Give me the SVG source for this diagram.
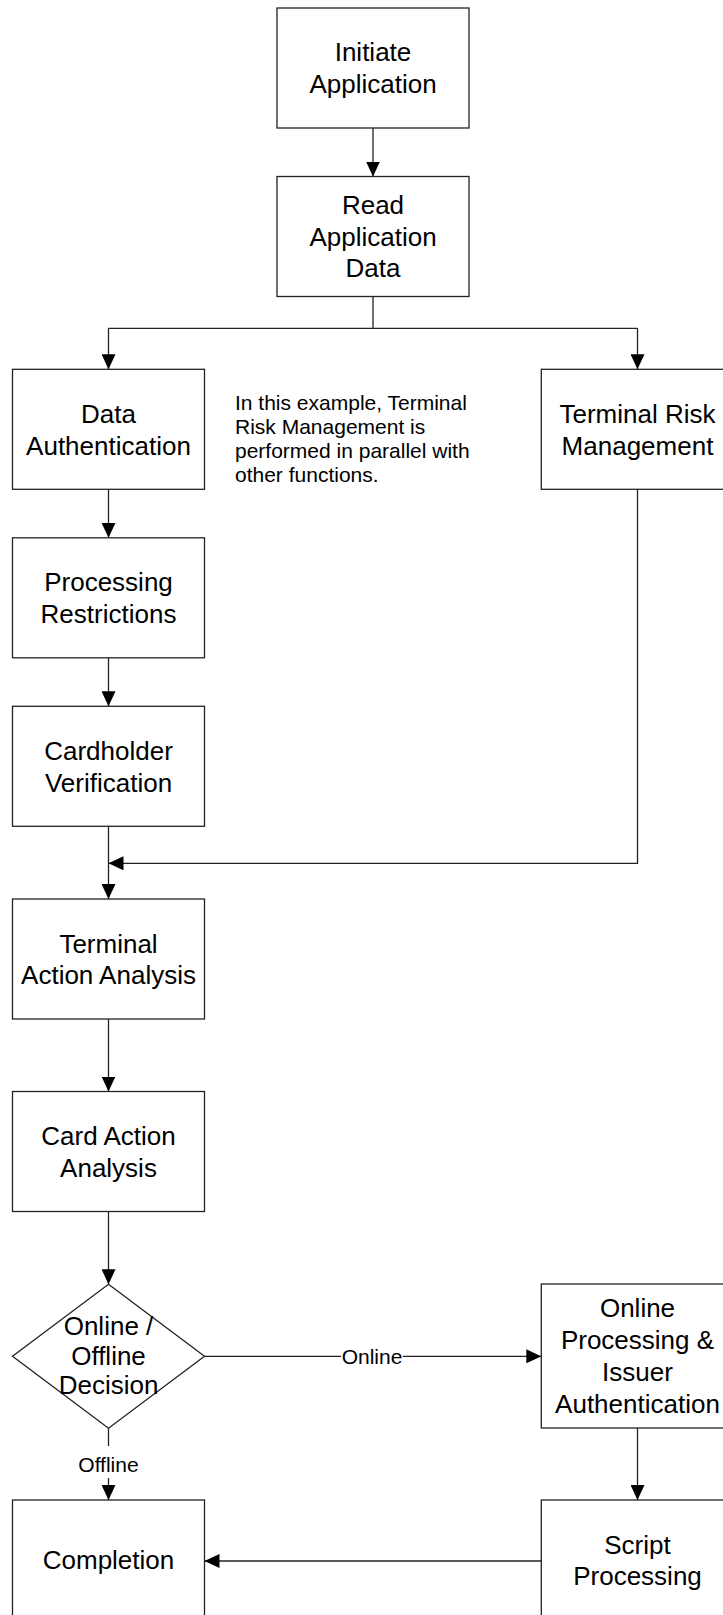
<svg xmlns="http://www.w3.org/2000/svg" width="723" height="1615" viewBox="0 0 723 1615">
<style>
.box{fill:#fff;stroke:#222;stroke-width:1.3}
.t{font-family:"Liberation Sans",Arial,sans-serif;font-size:26px;fill:#000;text-anchor:middle}
.note{font-family:"Liberation Sans",Arial,sans-serif;font-size:21px;fill:#000}
.lbl{font-family:"Liberation Sans",Arial,sans-serif;font-size:21px;fill:#000;text-anchor:middle}
.c{fill:none;stroke:#222;stroke-width:1.3}
</style>
<defs>
<marker id="ah" viewBox="0 0 15 14" refX="15" refY="7" markerWidth="15" markerHeight="14" markerUnits="userSpaceOnUse" orient="auto">
<path d="M0,0 L15,7 L0,14 Z" fill="#000"/>
</marker>
</defs>
<rect width="723" height="1615" fill="#fff"/>
<g id="connectors">
<path class="c" d="M373,128 V176.5" marker-end="url(#ah)"/>
<path class="c" d="M373,296.5 V328.3"/>
<path class="c" d="M108.5,328.3 H637.5"/>
<path class="c" d="M108.5,328.3 V369.3" marker-end="url(#ah)"/>
<path class="c" d="M637.5,328.3 V369.3" marker-end="url(#ah)"/>
<path class="c" d="M108.5,489.3 V537.8" marker-end="url(#ah)"/>
<path class="c" d="M108.5,657.8 V706.3" marker-end="url(#ah)"/>
<path class="c" d="M108.5,826.3 V899" marker-end="url(#ah)"/>
<path class="c" d="M637.5,489.3 V863.3 H108.5" marker-end="url(#ah)"/>
<path class="c" d="M108.5,1019 V1091.5" marker-end="url(#ah)"/>
<path class="c" d="M108.5,1211.5 V1284.3" marker-end="url(#ah)"/>
<path class="c" d="M204.5,1356.3 H541.3" marker-end="url(#ah)"/>
<rect x="341" y="1343" width="62" height="26" fill="#fff"/>
<text class="lbl" x="372" y="1364">Online</text>
<path class="c" d="M108.5,1428.3 V1500" marker-end="url(#ah)"/>
<rect x="80" y="1446" width="57" height="32" fill="#fff"/>
<text class="lbl" x="108.5" y="1471.5">Offline</text>
<path class="c" d="M637.5,1428 V1500" marker-end="url(#ah)"/>
<path class="c" d="M541.3,1561 H204.5" marker-end="url(#ah)"/>
</g>
<g id="initiate">
<rect class="box" x="277" y="8" width="192" height="120"/>
<text class="t"><tspan x="373" y="61">Initiate</tspan><tspan x="373" y="92.6">Application</tspan></text>
</g>
<g id="read">
<rect class="box" x="277" y="176.5" width="192" height="120"/>
<text class="t"><tspan x="373" y="214">Read</tspan><tspan x="373" y="245.7">Application</tspan><tspan x="373" y="277.4">Data</tspan></text>
</g>
<g id="dataauth">
<rect class="box" x="12.5" y="369.3" width="192" height="120"/>
<text class="t"><tspan x="108.5" y="422.8">Data</tspan><tspan x="108.5" y="454.5">Authentication</tspan></text>
</g>
<g id="note">
<text class="note"><tspan x="235" y="410">In this example, Terminal</tspan><tspan x="235" y="434">Risk Management is</tspan><tspan x="235" y="458">performed in parallel with</tspan><tspan x="235" y="482">other functions.</tspan></text>
</g>
<g id="trm">
<rect class="box" x="541.3" y="369.3" width="192" height="120"/>
<text class="t"><tspan x="637.5" y="422.8">Terminal Risk</tspan><tspan x="637.5" y="454.5">Management</tspan></text>
</g>
<g id="procrestr">
<rect class="box" x="12.5" y="537.8" width="192" height="120"/>
<text class="t"><tspan x="108.5" y="591.3">Processing</tspan><tspan x="108.5" y="623">Restrictions</tspan></text>
</g>
<g id="cardholder">
<rect class="box" x="12.5" y="706.3" width="192" height="120"/>
<text class="t"><tspan x="108.5" y="759.8">Cardholder</tspan><tspan x="108.5" y="791.5">Verification</tspan></text>
</g>
<g id="taa">
<rect class="box" x="12.5" y="899" width="192" height="120"/>
<text class="t"><tspan x="108.5" y="952.5">Terminal</tspan><tspan x="108.5" y="984.2">Action Analysis</tspan></text>
</g>
<g id="caa">
<rect class="box" x="12.5" y="1091.5" width="192" height="120"/>
<text class="t"><tspan x="108.5" y="1145">Card Action</tspan><tspan x="108.5" y="1176.7">Analysis</tspan></text>
</g>
<g id="decision">
<path class="box" stroke-width="1" d="M108.5,1284.3 L204.5,1356.3 L108.5,1428.3 L12.5,1356.3 Z"/>
<text class="t"><tspan x="108.5" y="1335">Online /</tspan><tspan x="108.5" y="1364.5">Offline</tspan><tspan x="108.5" y="1394">Decision</tspan></text>
</g>
<g id="online">
<rect class="box" x="541.3" y="1284" width="192" height="144"/>
<text class="t"><tspan x="637.5" y="1316.7">Online</tspan><tspan x="637.5" y="1348.7">Processing &amp;</tspan><tspan x="637.5" y="1380.7">Issuer</tspan><tspan x="637.5" y="1412.7">Authentication</tspan></text>
</g>
<g id="script">
<rect class="box" x="541.3" y="1500" width="192" height="120"/>
<text class="t"><tspan x="637.5" y="1553.5">Script</tspan><tspan x="637.5" y="1585.2">Processing</tspan></text>
</g>
<g id="completion">
<rect class="box" x="12.5" y="1500" width="192" height="120"/>
<text class="t"><tspan x="108.5" y="1569.3">Completion</tspan></text>
</g>
</svg>
